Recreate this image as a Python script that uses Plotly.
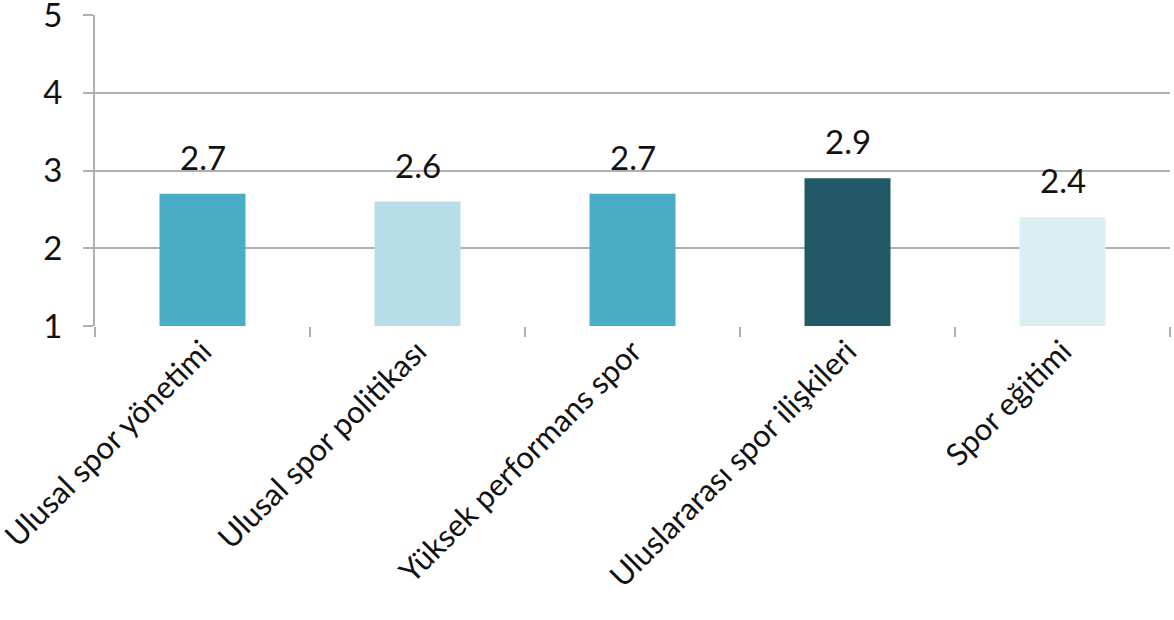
import plotly.graph_objects as go

categories = ["Ulusal spor yönetimi", "Ulusal spor politikası", "Yüksek performans spor",
              "Uluslararası spor ilişkileri", "Spor eğitimi"]
values = [2.7, 2.6, 2.7, 2.9, 2.4]
labels = ["2.7", "2.6", "2.7", "2.9", "2.4"]
colors = ["#4BACC6", "#B7DEE8", "#4BACC6", "#215968", "#DAEEF3"]
y_ticks = [1, 2, 3, 4, 5]

FONT = "Lato"
GRID = "#AFAFAF"

fig = go.Figure()
fig.add_trace(go.Bar(
    x=categories, y=values, marker=dict(color=colors, line=dict(width=0)),
    width=0.4, showlegend=False, hoverinfo="skip",
))

for c, v, t in zip(categories, values, labels):
    fig.add_annotation(x=c, y=v, text=t, showarrow=False, yanchor="bottom",
                       yshift=15, font=dict(family=FONT, size=33, color="#111111"))

fig.update_layout(
    template="none",
    width=1174, height=620,
    margin=dict(l=95, r=4, t=15, b=294),
    paper_bgcolor="white", plot_bgcolor="white",
    bargap=0.6,
    font=dict(family=FONT, color="#111111"),
    xaxis=dict(
        automargin=False, ticklabeloverflow="allow",
        tickangle=-45, tickson="boundaries", ticks="outside", ticklen=10,
        tickwidth=2, tickcolor=GRID, showgrid=False, showline=False,
        tickfont=dict(family=FONT, size=31, color="#111111"),
    ),
    yaxis=dict(
        automargin=False, ticklabeloverflow="allow",
        range=[1, 5], tickvals=y_ticks, ticks="outside", ticklen=10, tickwidth=2,
        tickcolor=GRID, showgrid=True, gridcolor=GRID, gridwidth=2,
        showline=True, linecolor=GRID, linewidth=2, zeroline=False,
        tickfont=dict(family=FONT, size=33, color="#111111"),
        ticklabelstandoff=14,
    ),
)

fig.write_html("out.html", config={"displayModeBar": False},
               post_script="document.body.style.margin='0';")
